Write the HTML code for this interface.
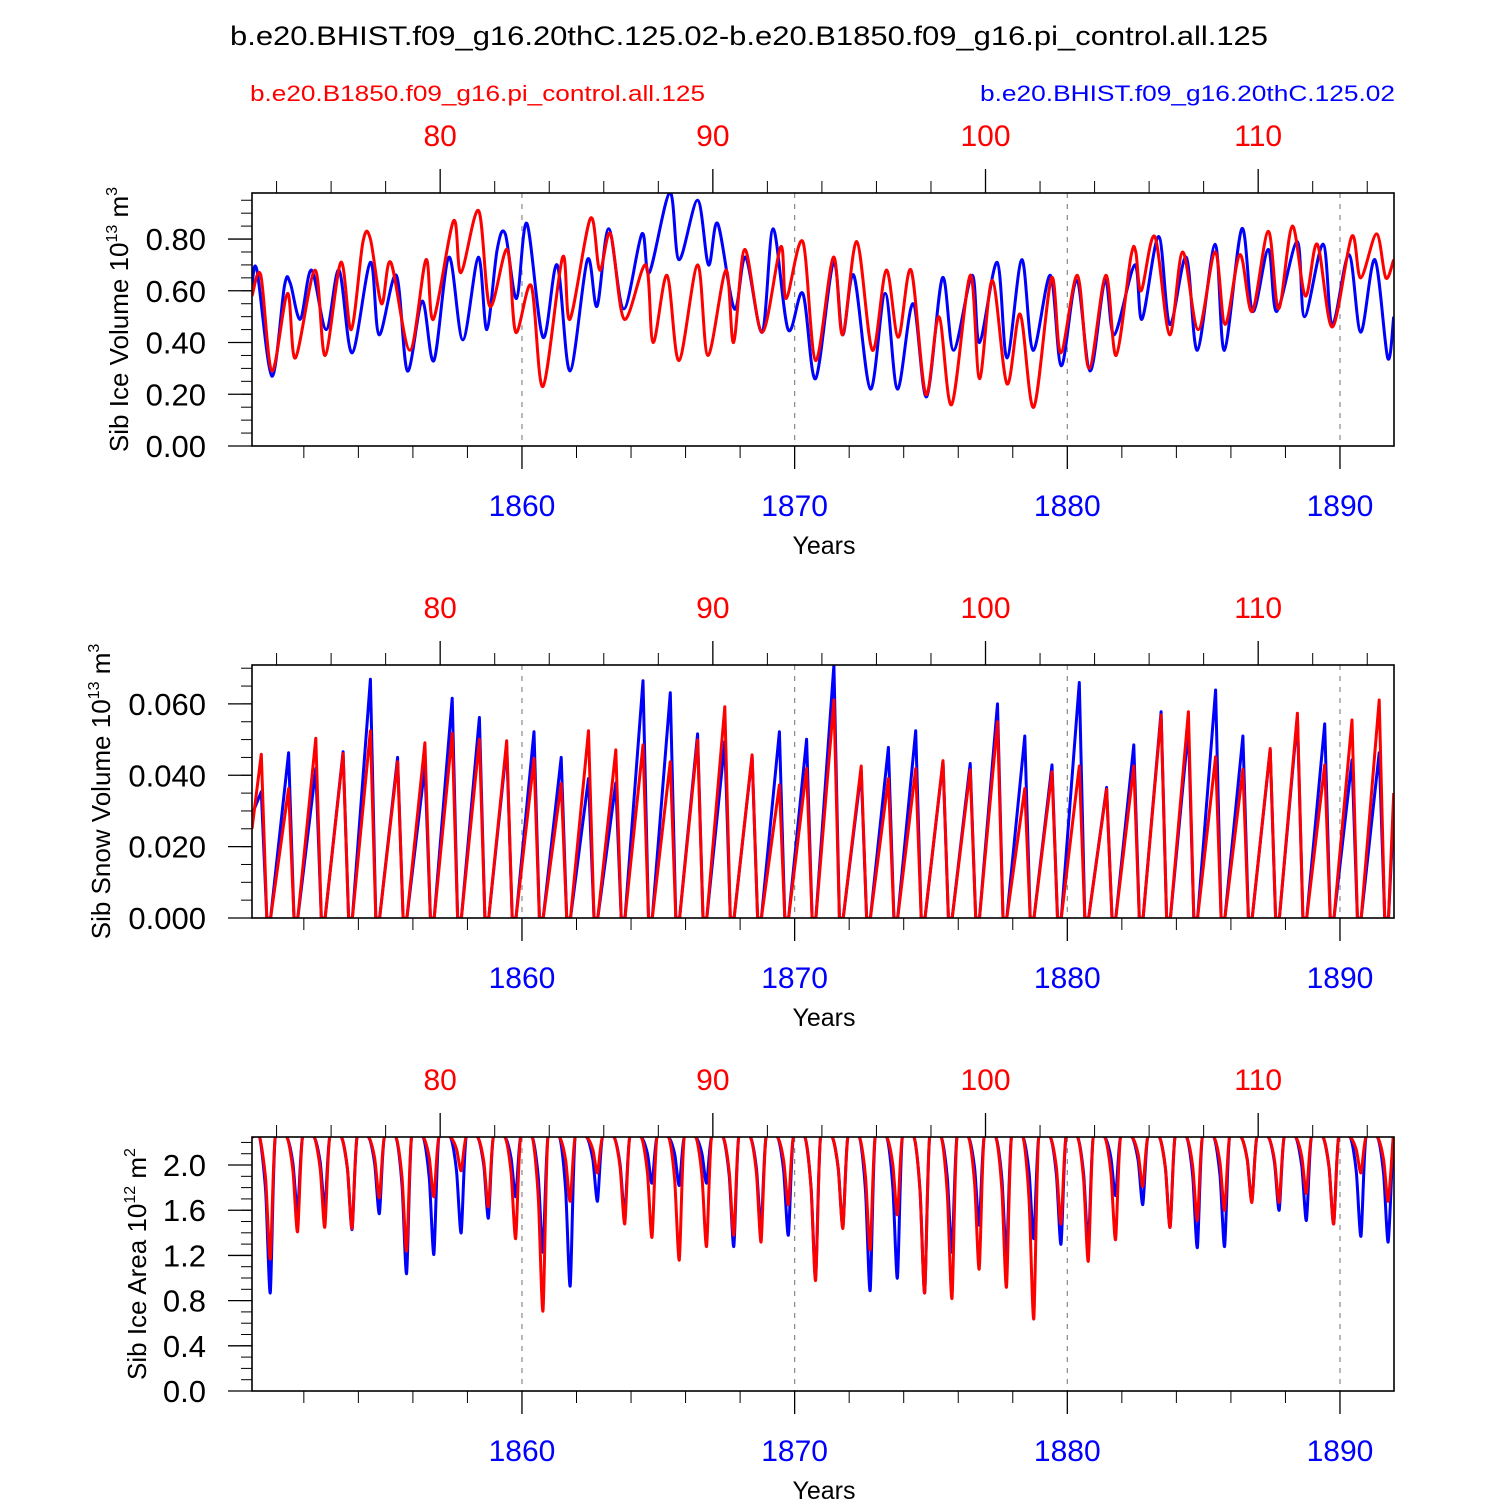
<!DOCTYPE html>
<html><head><meta charset="utf-8"><title>Sib ice chart</title>
<style>
html,body{margin:0;padding:0;background:#fff;}
svg{display:block;font-family:"Liberation Sans",Arial,sans-serif;}
</style></head>
<body>
<svg id="chart" width="1500" height="1500" viewBox="0 0 1500 1500" xmlns="http://www.w3.org/2000/svg">
<rect x="0" y="0" width="1500" height="1500" fill="#fff"/>
<text x="749" y="45" font-size="27" text-anchor="middle" textLength="1038" lengthAdjust="spacingAndGlyphs">b.e20.BHIST.f09_g16.20thC.125.02-b.e20.B1850.f09_g16.pi_control.all.125</text>
<text x="250" y="101" font-size="22" fill="#ff0000" textLength="455" lengthAdjust="spacingAndGlyphs">b.e20.B1850.f09_g16.pi_control.all.125</text>
<text x="1395" y="101" font-size="22" fill="#0000ff" text-anchor="end" textLength="415" lengthAdjust="spacingAndGlyphs">b.e20.BHIST.f09_g16.20thC.125.02</text>
<g id="panels"></g>
</svg>
<script>
// ---------- data ----------
const bottomYears = [1860, 1870, 1880, 1890];
const topLabels = [80, 90, 100, 110];
const topOffset = 1777;
const volTicks = [0.0, 0.2, 0.4, 0.6, 0.8];
const volTickLabels = ["0.00", "0.20", "0.40", "0.60", "0.80"];
const snowTicks = [0, 0.02, 0.04, 0.06];
const snowTickLabels = ["0.000", "0.020", "0.040", "0.060"];
const areaTicks = [0, 0.4, 0.8, 1.2, 1.6, 2.0];
const areaTickLabels = ["0.0", "0.4", "0.8", "1.2", "1.6", "2.0"];

const volBlueT = [1850.1,1850.28,1850.83,1851.29,1851.5,1851.87,1852.28,1852.82,1853.29,1853.77,1854.44,1854.76,1855.39,1855.80,1856.34,1856.77,1857.32,1857.83,1858.40,1858.71,1859.09,1859.39,1859.80,1860.18,1860.77,1861.29,1861.76,1862.40,1862.75,1863.18,1863.73,1864.40,1864.67,1865.42,1865.76,1866.44,1866.84,1867.18,1867.79,1868.20,1868.81,1869.21,1869.76,1870.30,1870.77,1871.42,1871.76,1872.17,1872.78,1873.32,1873.77,1874.34,1874.84,1875.42,1875.83,1876.51,1876.78,1877.43,1877.79,1878.33,1878.74,1879.38,1879.78,1880.34,1880.84,1881.38,1881.72,1882.47,1882.74,1883.35,1883.76,1884.36,1884.77,1885.42,1885.76,1886.40,1886.80,1887.37,1887.68,1888.43,1888.70,1889.38,1889.72,1890.33,1890.76,1891.28,1891.75,1891.97];
const volBlueV = [0.62,0.68,0.27,0.62,0.63,0.49,0.68,0.45,0.68,0.36,0.71,0.43,0.66,0.29,0.56,0.33,0.73,0.41,0.73,0.45,0.76,0.82,0.57,0.86,0.42,0.70,0.29,0.72,0.54,0.84,0.53,0.82,0.67,0.98,0.72,0.95,0.70,0.86,0.53,0.73,0.44,0.84,0.45,0.59,0.26,0.71,0.43,0.66,0.22,0.59,0.22,0.55,0.19,0.65,0.37,0.66,0.40,0.71,0.34,0.72,0.37,0.66,0.31,0.64,0.29,0.64,0.43,0.70,0.49,0.81,0.47,0.73,0.37,0.78,0.37,0.84,0.52,0.76,0.52,0.79,0.50,0.78,0.47,0.74,0.44,0.72,0.34,0.50];
const volRedT = [1850.1,1850.42,1850.83,1851.40,1851.69,1852.41,1852.78,1853.36,1853.74,1854.17,1854.44,1854.85,1855.19,1855.89,1856.48,1856.75,1857.49,1857.76,1858.41,1858.82,1859.46,1859.77,1860.34,1860.77,1861.49,1861.76,1862.51,1862.85,1863.25,1863.75,1864.54,1864.81,1865.32,1865.76,1866.44,1866.82,1867.48,1867.76,1868.17,1868.81,1869.49,1869.69,1870.30,1870.77,1871.42,1871.76,1872.28,1872.85,1873.36,1873.80,1874.27,1874.81,1875.29,1875.76,1876.44,1876.78,1877.25,1877.79,1878.27,1878.77,1879.42,1879.76,1880.37,1880.80,1881.41,1881.79,1882.33,1882.51,1882.71,1883.21,1883.75,1884.23,1884.80,1885.42,1885.79,1886.33,1886.78,1887.37,1887.75,1888.25,1888.73,1889.17,1889.72,1890.43,1890.76,1891.34,1891.68,1891.97];
const volRedV = [0.58,0.66,0.29,0.59,0.34,0.68,0.35,0.71,0.45,0.79,0.80,0.55,0.71,0.37,0.72,0.49,0.87,0.67,0.91,0.54,0.76,0.44,0.62,0.23,0.73,0.49,0.88,0.68,0.82,0.49,0.70,0.40,0.66,0.33,0.70,0.35,0.68,0.40,0.76,0.44,0.77,0.57,0.79,0.33,0.73,0.43,0.79,0.37,0.68,0.42,0.68,0.20,0.50,0.16,0.66,0.26,0.64,0.24,0.51,0.15,0.65,0.36,0.66,0.30,0.66,0.35,0.73,0.75,0.60,0.81,0.43,0.75,0.45,0.75,0.47,0.74,0.52,0.83,0.53,0.85,0.58,0.78,0.46,0.81,0.65,0.82,0.65,0.72];

const years = [1850,1851,1852,1853,1854,1855,1856,1857,1858,1859,1860,1861,1862,1863,1864,1865,1866,1867,1868,1869,1870,1871,1872,1873,1874,1875,1876,1877,1878,1879,1880,1881,1882,1883,1884,1885,1886,1887,1888,1889,1890,1891];
// annual snow-volume peaks (units of 0.001 x 10^13 m^3)
const snowBluePeak = [35.4,46.3,41.9,46.6,66.9,45.0,42.6,61.6,56.2,48.2,52.2,45.0,39.1,37.9,66.5,63.1,51.6,49.4,45.4,52.2,50.1,70.9,41.2,47.8,52.5,43.8,43.3,60.0,51.0,42.9,66.0,36.6,48.5,57.8,53.2,63.9,51.0,47.1,56.2,54.4,44.3,46.3];
const snowRedPeak = [45.9,36.3,50.4,46.1,52.5,43.8,49.1,51.8,50.1,49.7,44.7,37.7,52.5,47.1,48.5,43.8,49.9,59.2,45.7,37.3,41.9,61.1,42.6,39.1,41.9,44.1,41.5,55.0,36.3,41.0,42.6,36.1,42.6,56.9,57.8,45.2,41.7,47.5,57.4,42.9,55.5,61.1];
const snowBlueEdge = [29, 30];
const snowRedEdge = [25, 35];
// annual ice-area minima (10^12 m^2)
const areaMax = 2.245;
const areaBlueMin = [0.87,1.59,1.62,1.43,1.57,1.04,1.21,1.40,1.53,1.72,1.23,0.93,1.68,1.56,1.84,1.82,1.84,1.28,1.45,1.38,1.01,1.45,0.89,1.00,0.87,1.23,1.47,1.20,1.35,1.30,1.30,1.73,1.65,1.45,1.27,1.28,1.68,1.60,1.51,1.48,1.37,1.32];
const areaRedMin = [1.17,1.41,1.45,1.44,1.71,1.24,1.72,1.95,1.63,1.35,0.71,1.68,1.93,1.48,1.36,1.16,1.28,1.38,1.32,1.65,0.98,1.44,1.25,1.56,0.87,0.82,1.08,0.92,0.64,1.48,1.15,1.34,1.81,1.45,1.51,1.60,1.67,1.67,1.75,1.48,1.93,1.68];

// ---------- layout ----------
const NS = "http://www.w3.org/2000/svg";
const L = 252, R = 1394;
function xs(t){ return 249.3 + 27.267*(t-1850); }
const root = document.getElementById('panels');
function mk(tag, attrs, parent){
  const e = document.createElementNS(NS, tag);
  for (const k in attrs) e.setAttribute(k, attrs[k]);
  (parent||root).appendChild(e);
  return e;
}

function snowSeries(peaks, edge){
  const t=[1850.1], v=[edge[0]/1000];
  for (let i=0;i<years.length;i++){
    const y=years[i];
    t.push(y+0.44); v.push(peaks[i]/1000);
    t.push(y+0.64); v.push(0);
    t.push(y+0.78); v.push(0);
  }
  t.push(1891.97); v.push(edge[1]/1000);
  return [t,v];
}
function areaSeries(mins){
  const t=[1850.1], v=[areaMax];
  for (let i=0;i<years.length;i++){
    const y=years[i];
    t.push(y+0.38); v.push(areaMax);
    t.push(y+0.60); v.push(areaMax-(areaMax-mins[i])*0.35);
    t.push(y+0.77); v.push(mins[i]);
    t.push(y+0.95); v.push(areaMax);
  }
  t.push(1891.97); v.push(areaMax);
  return [t,v];
}

// smooth path (Catmull-Rom -> cubic Bezier)
function smoothPath(P, k){
  let d = 'M' + P[0][0].toFixed(1) + ',' + P[0][1].toFixed(1);
  for (let i=0;i<P.length-1;i++){
    const p0 = P[Math.max(0,i-1)], p1 = P[i], p2 = P[i+1], p3 = P[Math.min(P.length-1,i+2)];
    const c1x = p1[0] + (p2[0]-p0[0])*k, c1y = p1[1] + (p2[1]-p0[1])*k;
    const c2x = p2[0] - (p3[0]-p1[0])*k, c2y = p2[1] - (p3[1]-p1[1])*k;
    d += ' C' + c1x.toFixed(1)+','+c1y.toFixed(1)+' '+c2x.toFixed(1)+','+c2y.toFixed(1)+' '+p2[0].toFixed(1)+','+p2[1].toFixed(1);
  }
  return d;
}

const panels = [
  {name:'ice-volume', top:193, bot:446, ymax:0.978, minor:0.05, ticks:volTicks, labels:volTickLabels,
   title:['Sib Ice Volume 10','13',' m','3'], titleX:128, smooth:0.16,
   series:[['blue',volBlueT,volBlueV],['red',volRedT,volRedV]]},
  {name:'snow-volume', top:665, bot:918, ymax:0.0709, minor:0.005, ticks:snowTicks, labels:snowTickLabels,
   title:['Sib Snow Volume 10','13',' m','3'], titleX:110, smooth:0,
   series:[['blue'].concat(snowSeries(snowBluePeak,snowBlueEdge)),['red'].concat(snowSeries(snowRedPeak,snowRedEdge))]},
  {name:'ice-area', top:1137, bot:1391, ymax:2.248, minor:0.1, ticks:areaTicks, labels:areaTickLabels,
   title:['Sib Ice Area 10','12',' m','2'], titleX:146, smooth:0.12,
   series:[['blue'].concat(areaSeries(areaBlueMin)),['red'].concat(areaSeries(areaRedMin))]}
];

panels.forEach((p, pi) => {
  const g = mk('g', {});
  
  
  const ys = v => p.bot - v/p.ymax*(p.bot-p.top);
  const cid = 'clip'+pi;
  const cp = mk('clipPath', {id:cid}, g);
  mk('rect', {x:L, y:p.top, width:R-L, height:p.bot-p.top}, cp);

  bottomYears.forEach(yr => {
    const ln = mk('line', {x1:xs(yr), x2:xs(yr), y1:p.top, y2:p.bot, stroke:'#888', 'stroke-width':1.2, 'stroke-dasharray':'5,6'}, g);
    
    
  });

  p.series.forEach(s => {
    const col = s[0]==='blue' ? '#0000ff' : '#ff0000';
    const P = s[1].map((t,i) => [xs(t), ys(s[2][i])]);
    let el;
    if (p.smooth > 0){
      el = mk('path', {d:smoothPath(P, p.smooth), fill:'none', stroke:col, 'stroke-width':3, 'stroke-linejoin':'round', 'clip-path':'url(#'+cid+')'}, g);
    } else {
      el = mk('polyline', {points:P.map(q=>q[0].toFixed(1)+','+q[1].toFixed(1)).join(' '), fill:'none', stroke:col, 'stroke-width':3, 'stroke-linejoin':'round', 'clip-path':'url(#'+cid+')'}, g);
    }
    
    
  });

  const fr = mk('rect', {x:L, y:p.top, width:R-L, height:p.bot-p.top, fill:'none', stroke:'#000', 'stroke-width':1.6}, g);
  
  

  for (let v=0; v<=p.ymax+1e-9; v+=p.minor){
    const y = ys(v);
    mk('line', {x1:L-11, x2:L, y1:y, y2:y, stroke:'#000', 'stroke-width':1}, g);
  }
  p.ticks.forEach((v,i) => {
    const y = ys(v);
    mk('line', {x1:L-24, x2:L, y1:y, y2:y, stroke:'#000', 'stroke-width':1.3}, g);
    const tx = mk('text', {x:206, y:y+11, 'font-size':31, 'text-anchor':'end'}, g);
    tx.textContent = p.labels[i];
    
    
  });

  const yt = mk('text', {x:0, y:0, 'font-size':26, 'text-anchor':'middle', transform:'translate('+p.titleX+','+((p.top+p.bot)/2)+') rotate(-90)'}, g);
  
  
  const t1 = mk('tspan', {}, yt); t1.textContent = p.title[0];
  const t2 = mk('tspan', {dy:-11, 'font-size':16}, yt); t2.textContent = p.title[1];
  const t3 = mk('tspan', {dy:11}, yt); t3.textContent = p.title[2];
  const t4 = mk('tspan', {dy:-11, 'font-size':16}, yt); t4.textContent = p.title[3];

  for (let yr=1852; yr<=1890; yr+=2){
    const x = xs(yr);
    const major = bottomYears.indexOf(yr) >= 0;
    mk('line', {x1:x, x2:x, y1:p.bot, y2:p.bot+(major?23:12), stroke:'#000', 'stroke-width':major?1.3:1}, g);
  }
  bottomYears.forEach(yr => {
    const tx = mk('text', {x:xs(yr), y:p.bot+70, 'font-size':30, fill:'#0000ff', 'text-anchor':'middle'}, g);
    tx.textContent = String(yr);
    
    
  });
  const xt = mk('text', {x:824, y:p.bot+108, 'font-size':25, 'text-anchor':'middle'}, g);
  xt.textContent = 'Years';
  
  

  for (let m=74; m<=114; m+=2){
    const x = xs(m+topOffset);
    if (x < L-1 || x > R+1) continue;
    const major = topLabels.indexOf(m) >= 0;
    mk('line', {x1:x, x2:x, y1:p.top, y2:p.top-(major?24:12), stroke:'#000', 'stroke-width':major?1.3:1}, g);
  }
  topLabels.forEach(m => {
    const tx = mk('text', {x:xs(m+topOffset), y:p.top-47, 'font-size':30, fill:'#ff0000', 'text-anchor':'middle'}, g);
    tx.textContent = String(m);
    
    
  });
});
</script>
</body></html>
